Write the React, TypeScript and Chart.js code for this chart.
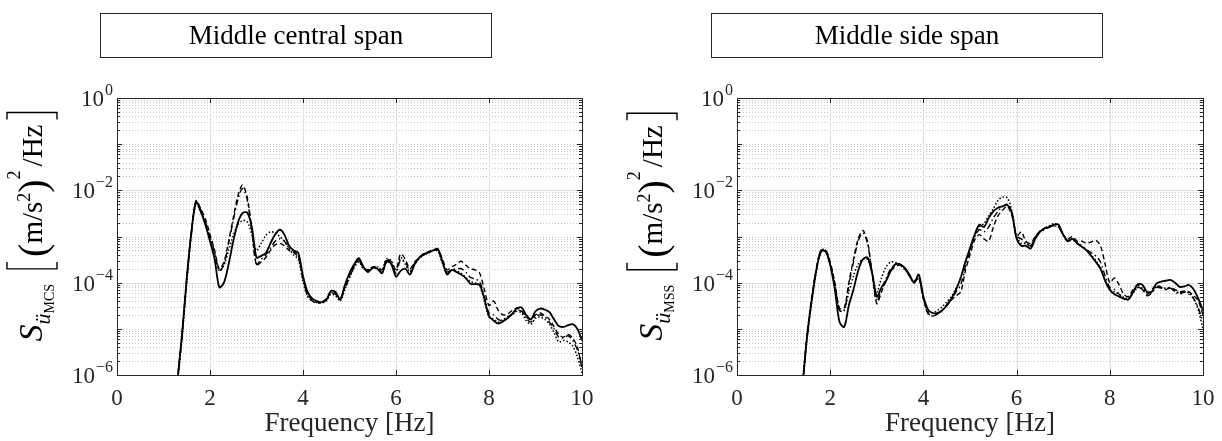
import React, { useEffect, useRef } from "react";
import { Chart, registerables } from "chart.js";

Chart.register(...registerables);

const FONT = "'Liberation Serif', 'Times New Roman', serif";

// ---------- data: Middle central span ----------
const centralFreq = [
  1.3, 1.4, 1.5, 1.6, 1.7, 1.8, 1.9, 2.0, 2.1, 2.2, 2.3, 2.4, 2.5, 2.6, 2.7, 2.8, 2.9, 3.0, 3.1, 3.2,
  3.3, 3.4, 3.5, 3.6, 3.7, 3.8, 3.9, 4.0, 4.1, 4.2, 4.3, 4.4, 4.5, 4.6, 4.7, 4.8, 4.9, 5.0, 5.1, 5.2,
  5.3, 5.4, 5.5, 5.6, 5.7, 5.8, 5.9, 6.0, 6.1, 6.2, 6.3, 6.4, 6.5, 6.6, 6.7, 6.8, 6.9, 7.0, 7.1, 7.2,
  7.3, 7.4, 7.5, 7.6, 7.7, 7.8, 7.9, 8.0, 8.1, 8.2, 8.3, 8.4, 8.5, 8.6, 8.7, 8.8, 8.9, 9.0, 9.1, 9.2,
  9.3, 9.4, 9.5, 9.6, 9.7, 9.8, 9.9, 10.0,
];
const centralSolid = [
  7.9e-7, 7.9e-6, 1.26e-4, 1.26e-3, 5.6e-3, 3.5e-3, 1.8e-3, 7.9e-4, 3.2e-4, 7.9e-5,
  1.0e-4, 2.5e-4, 7.9e-4, 2.0e-3, 3.2e-3, 3.3e-3, 1.6e-3, 3.5e-4, 3.8e-4, 4.4e-4,
  7.1e-4, 1.1e-3, 1.4e-3, 1.1e-3, 6.3e-4, 5.0e-4, 4.4e-4, 1.4e-4, 6.3e-5, 4.5e-5,
  4.0e-5, 3.8e-5, 4.2e-5, 6.6e-5, 6.3e-5, 4.3e-5, 8.9e-5, 1.6e-4, 2.5e-4, 3.4e-4,
  2.2e-4, 1.7e-4, 2.1e-4, 2.0e-4, 1.6e-4, 3.0e-4, 2.5e-4, 1.35e-4, 1.8e-4, 2.0e-4,
  1.5e-4, 2.5e-4, 3.5e-4, 4.2e-4, 4.5e-4, 5.0e-4, 5.4e-4, 2.8e-4, 1.5e-4, 1.9e-4,
  1.7e-4, 1.5e-4, 1.26e-4, 9.5e-5, 9.3e-5, 8.9e-5, 4.5e-5, 1.9e-5, 1.5e-5, 1.3e-5,
  1.45e-5, 1.7e-5, 2.1e-5, 2.8e-5, 2.9e-5, 2.0e-5, 1.6e-5, 2.4e-5, 2.75e-5, 2.6e-5,
  2.3e-5, 1.6e-5, 1.15e-5, 1.1e-5, 1.2e-5, 1.26e-5, 1.0e-5, 5.6e-6,
];
const centralDashed = [
  7.9e-7, 7.9e-6, 1.26e-4, 1.26e-3, 6.0e-3, 4.0e-3, 2.4e-3, 1.1e-3, 5.0e-4, 2.0e-4,
  2.8e-4, 7.9e-4, 2.5e-3, 7.6e-3, 1.3e-2, 7.1e-3, 1.4e-3, 2.4e-4, 2.8e-4, 3.5e-4,
  5.0e-4, 6.6e-4, 7.1e-4, 6.3e-4, 5.0e-4, 4.5e-4, 3.5e-4, 1.26e-4, 5.6e-5, 4.2e-5,
  3.8e-5, 3.8e-5, 4.5e-5, 6.3e-5, 6.0e-5, 4.5e-5, 7.9e-5, 1.4e-4, 2.3e-4, 3.2e-4,
  2.1e-4, 1.9e-4, 2.2e-4, 2.1e-4, 1.9e-4, 3.2e-4, 2.8e-4, 1.9e-4, 4.2e-4, 3.2e-4,
  2.0e-4, 2.8e-4, 3.5e-4, 4.2e-4, 4.7e-4, 5.2e-4, 5.2e-4, 3.2e-4, 1.9e-4, 2.2e-4,
  2.5e-4, 2.9e-4, 2.4e-4, 2.0e-4, 1.9e-4, 1.6e-4, 7.1e-5, 3.2e-5, 4.0e-5, 2.5e-5,
  2.0e-5, 2.1e-5, 2.5e-5, 2.8e-5, 2.5e-5, 1.8e-5, 1.6e-5, 2.0e-5, 2.2e-5, 1.9e-5,
  1.6e-5, 1.1e-5, 7.6e-6, 6.6e-6, 7.6e-6, 6.3e-6, 4.0e-6, 1.4e-6,
];
const centralDashDot = [
  7.1e-7, 7.1e-6, 1.1e-4, 1.2e-3, 5.8e-3, 3.8e-3, 2.1e-3, 1.0e-3, 4.5e-4, 1.8e-4,
  2.5e-4, 7.1e-4, 2.2e-3, 6.3e-3, 1.1e-2, 6.3e-3, 1.26e-3, 2.5e-4, 3.2e-4, 4.0e-4,
  5.6e-4, 7.9e-4, 8.9e-4, 7.9e-4, 5.6e-4, 4.8e-4, 3.8e-4, 1.2e-4, 5.2e-5, 4.0e-5,
  3.6e-5, 3.7e-5, 4.4e-5, 6.0e-5, 5.6e-5, 4.2e-5, 7.6e-5, 1.3e-4, 2.2e-4, 3.0e-4,
  2.0e-4, 1.8e-4, 2.1e-4, 2.0e-4, 1.7e-4, 2.8e-4, 2.6e-4, 1.6e-4, 3.2e-4, 2.8e-4,
  1.8e-4, 2.6e-4, 3.4e-4, 4.0e-4, 4.4e-4, 5.0e-4, 5.0e-4, 2.8e-4, 1.7e-4, 1.9e-4,
  2.0e-4, 2.0e-4, 1.7e-4, 1.3e-4, 1.2e-4, 1.05e-4, 5.0e-5, 2.2e-5, 2.0e-5, 1.6e-5,
  1.5e-5, 1.8e-5, 2.1e-5, 2.5e-5, 2.4e-5, 1.7e-5, 1.4e-5, 1.9e-5, 2.0e-5, 1.8e-5,
  1.4e-5, 1.0e-5, 6.6e-6, 6.3e-6, 7.1e-6, 5.6e-6, 3.5e-6, 1.6e-6,
];
const centralDotted = [
  6.3e-7, 6.3e-6, 1.0e-4, 1.1e-3, 5.2e-3, 3.5e-3, 1.9e-3, 9.5e-4, 4.2e-4, 1.8e-4,
  2.4e-4, 5.0e-4, 1.05e-3, 1.8e-3, 2.2e-3, 2.1e-3, 1.1e-3, 5.0e-4, 7.1e-4, 1.05e-3,
  1.26e-3, 1.2e-3, 1.0e-3, 7.9e-4, 5.6e-4, 4.0e-4, 3.2e-4, 1.05e-4, 5.0e-5, 4.0e-5,
  3.7e-5, 3.6e-5, 4.0e-5, 5.6e-5, 5.2e-5, 4.0e-5, 7.1e-5, 1.26e-4, 2.1e-4, 2.8e-4,
  2.0e-4, 1.9e-4, 2.2e-4, 2.2e-4, 1.9e-4, 3.3e-4, 3.0e-4, 1.8e-4, 3.5e-4, 2.5e-4,
  1.7e-4, 2.5e-4, 3.3e-4, 4.0e-4, 4.5e-4, 5.0e-4, 4.8e-4, 2.6e-4, 1.6e-4, 1.9e-4,
  1.8e-4, 1.6e-4, 1.3e-4, 1.05e-4, 1.0e-4, 8.9e-5, 4.0e-5, 1.8e-5, 1.6e-5, 1.4e-5,
  1.6e-5, 1.8e-5, 2.0e-5, 2.4e-5, 2.2e-5, 1.5e-5, 1.26e-5, 1.7e-5, 1.8e-5, 1.6e-5,
  1.26e-5, 8.3e-6, 5.2e-6, 5.6e-6, 5.2e-6, 4.2e-6, 2.5e-6, 1.1e-6,
];

// ---------- data: Middle side span ----------
const sideFreq = [
  1.4, 1.5, 1.6, 1.7, 1.8, 1.9, 2.0, 2.1, 2.2, 2.3, 2.4, 2.5, 2.6, 2.7, 2.8, 2.9, 3.0, 3.1, 3.2, 3.3,
  3.4, 3.5, 3.6, 3.7, 3.8, 3.9, 4.0, 4.1, 4.2, 4.3, 4.4, 4.5, 4.6, 4.7, 4.8, 4.9, 5.0, 5.1, 5.2, 5.3,
  5.4, 5.5, 5.6, 5.7, 5.8, 5.9, 6.0, 6.1, 6.2, 6.3, 6.4, 6.5, 6.6, 6.7, 6.8, 6.9, 7.0, 7.1, 7.2, 7.3,
  7.4, 7.5, 7.6, 7.7, 7.8, 7.9, 8.0, 8.1, 8.2, 8.3, 8.4, 8.5, 8.6, 8.7, 8.8, 8.9, 9.0, 9.1, 9.2, 9.3,
  9.4, 9.5, 9.6, 9.7, 9.8, 9.9, 10.0,
];
const sideSolid = [
  5.0e-7, 6.3e-6, 4.0e-5, 1.8e-4, 4.7e-4, 4.8e-4, 2.4e-4, 7.1e-5, 1.4e-5, 1.1e-5,
  3.2e-5, 7.1e-5, 1.8e-4, 3.2e-4, 3.5e-4, 1.6e-4, 5.0e-5, 7.9e-5, 1.1e-4, 1.8e-4,
  2.5e-4, 2.5e-4, 2.1e-4, 1.5e-4, 1.0e-4, 1.5e-4, 5.0e-5, 2.6e-5, 2.2e-5, 2.2e-5,
  2.5e-5, 3.2e-5, 4.5e-5, 7.1e-5, 1.26e-4, 2.8e-4, 5.6e-4, 1.1e-3, 1.8e-3, 1.6e-3,
  2.5e-3, 3.5e-3, 4.2e-3, 4.5e-3, 4.8e-3, 3.2e-3, 8.9e-4, 6.3e-4, 6.3e-4, 5.5e-4,
  8.9e-4, 1.26e-3, 1.5e-3, 1.6e-3, 1.8e-3, 1.8e-3, 1.1e-3, 7.9e-4, 8.9e-4, 7.1e-4,
  6.0e-4, 5.0e-4, 3.8e-4, 2.8e-4, 2.0e-4, 1.1e-4, 6.9e-5, 5.6e-5, 5.0e-5, 4.5e-5,
  4.3e-5, 6.3e-5, 9.3e-5, 8.9e-5, 6.3e-5, 6.3e-5, 9.5e-5, 1.05e-4, 1.1e-4, 1.15e-4,
  1.0e-4, 8.1e-5, 8.3e-5, 8.9e-5, 7.1e-5, 4.5e-5, 2.5e-5,
];
const sideDashed = [
  5.6e-7, 7.1e-6, 4.5e-5, 2.0e-4, 5.0e-4, 5.2e-4, 2.8e-4, 1.0e-4, 2.8e-5, 2.8e-5,
  1.0e-4, 3.2e-4, 8.9e-4, 1.35e-3, 7.9e-4, 1.6e-4, 3.5e-5, 6.3e-5, 1.1e-4, 1.8e-4,
  2.2e-4, 2.4e-4, 2.0e-4, 1.4e-4, 1.1e-4, 1.26e-4, 4.5e-5, 2.2e-5, 1.9e-5, 2.1e-5,
  2.5e-5, 3.2e-5, 4.2e-5, 5.2e-5, 6.3e-5, 1.8e-4, 4.0e-4, 8.3e-4, 1.1e-3, 8.9e-4,
  7.9e-4, 1.6e-3, 2.8e-3, 3.7e-3, 4.5e-3, 2.8e-3, 1.0e-3, 1.26e-3, 7.9e-4, 7.1e-4,
  1.0e-3, 1.3e-3, 1.5e-3, 1.7e-3, 1.7e-3, 1.6e-3, 1.1e-3, 8.9e-4, 1.0e-3, 7.9e-4,
  7.9e-4, 7.1e-4, 7.6e-4, 8.3e-4, 6.3e-4, 2.5e-4, 1.0e-4, 1.26e-4, 8.9e-5, 5.6e-5,
  5.0e-5, 7.1e-5, 8.9e-5, 7.1e-5, 5.6e-5, 7.1e-5, 8.9e-5, 7.9e-5, 7.1e-5, 7.9e-5,
  7.1e-5, 6.3e-5, 6.6e-5, 6.3e-5, 5.2e-5, 4.0e-5, 2.0e-5,
];
const sideDashDot = [
  5.0e-7, 6.3e-6, 4.0e-5, 1.9e-4, 5.0e-4, 5.0e-4, 2.6e-4, 8.9e-5, 2.5e-5, 2.5e-5,
  8.9e-5, 2.8e-4, 7.9e-4, 1.2e-3, 7.1e-4, 1.6e-4, 4.0e-5, 7.1e-5, 1.26e-4, 2.0e-4,
  2.5e-4, 2.5e-4, 2.1e-4, 1.4e-4, 1.0e-4, 1.3e-4, 4.5e-5, 2.1e-5, 1.9e-5, 2.1e-5,
  2.5e-5, 3.3e-5, 4.5e-5, 6.3e-5, 8.9e-5, 2.2e-4, 4.8e-4, 1.0e-3, 1.4e-3, 1.26e-3,
  1.6e-3, 2.5e-3, 3.5e-3, 4.5e-3, 5.0e-3, 3.2e-3, 1.0e-3, 8.9e-4, 7.1e-4, 6.3e-4,
  9.5e-4, 1.26e-3, 1.4e-3, 1.6e-3, 1.7e-3, 1.6e-3, 1.05e-3, 7.9e-4, 8.9e-4, 7.1e-4,
  6.3e-4, 5.2e-4, 4.5e-4, 3.8e-4, 2.8e-4, 1.4e-4, 7.9e-5, 7.1e-5, 5.6e-5, 4.5e-5,
  4.5e-5, 6.0e-5, 7.9e-5, 7.1e-5, 5.2e-5, 6.0e-5, 7.9e-5, 7.6e-5, 7.1e-5, 7.6e-5,
  6.3e-5, 5.6e-5, 6.3e-5, 5.6e-5, 4.5e-5, 2.8e-5, 1.4e-5,
];
const sideDotted = [
  4.5e-7, 5.6e-6, 3.5e-5, 1.7e-4, 4.5e-4, 4.7e-4, 2.5e-4, 8.9e-5, 2.5e-5, 2.5e-5,
  6.3e-5, 1.4e-4, 2.5e-4, 3.2e-4, 3.2e-4, 1.6e-4, 6.3e-5, 1.26e-4, 2.2e-4, 2.8e-4,
  2.75e-4, 2.4e-4, 1.9e-4, 1.4e-4, 1.0e-4, 1.26e-4, 4.5e-5, 2.4e-5, 2.2e-5, 2.5e-5,
  3.0e-5, 3.8e-5, 5.0e-5, 7.6e-5, 1.3e-4, 2.8e-4, 5.2e-4, 1.0e-3, 1.6e-3, 1.9e-3,
  2.8e-3, 4.0e-3, 6.0e-3, 7.2e-3, 6.9e-3, 3.5e-3, 1.0e-3, 7.1e-4, 7.1e-4, 6.3e-4,
  9.5e-4, 1.3e-3, 1.5e-3, 1.7e-3, 1.9e-3, 1.7e-3, 1.1e-3, 8.3e-4, 8.9e-4, 7.1e-4,
  6.0e-4, 5.0e-4, 4.0e-4, 3.0e-4, 2.1e-4, 1.1e-4, 7.1e-5, 6.3e-5, 5.6e-5, 4.8e-5,
  4.5e-5, 6.0e-5, 7.9e-5, 7.6e-5, 6.0e-5, 6.3e-5, 8.3e-5, 7.9e-5, 7.6e-5, 7.6e-5,
  6.6e-5, 6.0e-5, 6.3e-5, 6.0e-5, 4.5e-5, 2.5e-5, 1.0e-5,
];

// ---------- ticks ----------
const xTickValues = [0, 2, 4, 6, 8, 10];
const yTickValues = [1, 1e-2, 1e-4, 1e-6];
const yTickExponents = ["0", "\u22122", "\u22124", "\u22126"];
const xGridValues = [2, 4, 6, 8];
const yMajorGridValues = [1e-2, 1e-4];

const panelTitles = ["Middle central span", "Middle side span"];
const panelSubscripts = ["MCS", "MSS"];
const xAxisTitle = "Frequency [Hz]";

type Series = { values: number[]; width: number; dash: number[] };

function makeDecor(title: string, sub: string) {
  return {
    id: "decor",
    beforeDatasetsDraw(chart: any) {
      const { ctx, chartArea: a, scales } = chart;
      const ys = scales.y;
      const xs = scales.x;
      ctx.save();
      ctx.lineWidth = 1;
      ctx.strokeStyle = "#c8c8c8";
      ctx.setLineDash([1, 2]);
      for (let e = -6; e < 0; e++) {
        for (let m = 1; m < 10; m++) {
          if (m === 1 && e % 2 === 0) continue;
          const v = m * Math.pow(10, e);
          const y = Math.round(ys.getPixelForValue(v)) + 0.5;
          ctx.beginPath();
          ctx.moveTo(a.left, y);
          ctx.lineTo(a.right, y);
          ctx.stroke();
        }
      }
      ctx.setLineDash([]);
      ctx.strokeStyle = "#dedede";
      for (const v of yMajorGridValues) {
        const y = Math.round(ys.getPixelForValue(v)) + 0.5;
        ctx.beginPath();
        ctx.moveTo(a.left, y);
        ctx.lineTo(a.right, y);
        ctx.stroke();
      }
      for (const v of xGridValues) {
        const x = Math.round(xs.getPixelForValue(v)) + 0.5;
        ctx.beginPath();
        ctx.moveTo(x, a.top);
        ctx.lineTo(x, a.bottom);
        ctx.stroke();
      }
      ctx.restore();
    },
    afterDraw(chart: any) {
      const { ctx, chartArea: a, scales } = chart;
      const ys = scales.y;
      const xs = scales.x;
      ctx.save();
      const dark = "#262626";
      ctx.strokeStyle = dark;
      ctx.lineWidth = 1;
      ctx.strokeRect(Math.round(a.left) + 0.5, Math.round(a.top) + 0.5, Math.round(a.right - a.left), Math.round(a.bottom - a.top));
      for (const v of xTickValues) {
        const x = Math.round(xs.getPixelForValue(v)) + 0.5;
        ctx.beginPath();
        ctx.moveTo(x, a.bottom);
        ctx.lineTo(x, a.bottom - 5);
        ctx.moveTo(x, a.top);
        ctx.lineTo(x, a.top + 5);
        ctx.stroke();
      }
      for (let e = -6; e <= 0; e++) {
        for (let m = 1; m < 10; m++) {
          if (e === 0 && m > 1) break;
          const v = m * Math.pow(10, e);
          const len = m === 1 ? 5 : 3;
          const y = Math.round(ys.getPixelForValue(v)) + 0.5;
          ctx.beginPath();
          ctx.moveTo(a.left, y);
          ctx.lineTo(a.left + len, y);
          ctx.moveTo(a.right, y);
          ctx.lineTo(a.right - len, y);
          ctx.stroke();
        }
      }
      // y tick labels 10^k
      ctx.fillStyle = dark;
      ctx.textBaseline = "alphabetic";
      ctx.textAlign = "left";
      yTickValues.forEach((v, i) => {
        const y = ys.getPixelForValue(v);
        const exp = yTickExponents[i];
        ctx.font = `16px ${FONT}`;
        const ew = ctx.measureText(exp).width;
        ctx.font = `23px ${FONT}`;
        const bw = ctx.measureText("10").width;
        const right = a.left - 4;
        ctx.fillText("10", right - ew - bw - 1, y + 8);
        ctx.font = `16px ${FONT}`;
        ctx.fillText(exp, right - ew, y - 3);
      });
      // x axis title
      ctx.font = `27px ${FONT}`;
      ctx.textAlign = "center";
      ctx.fillText(xAxisTitle, (a.left + a.right) / 2, 431);
      // y axis label
      drawYLabel(ctx, a.left - 75, (a.top + a.bottom) / 2 - 10, sub);
      // title box
      ctx.lineWidth = 1;
      ctx.strokeStyle = dark;
      ctx.strokeRect(100.5, 13.5, 391, 44);
      ctx.fillStyle = "#000";
      ctx.font = `27px ${FONT}`;
      ctx.textAlign = "center";
      ctx.fillText(title, 296, 44);
      ctx.restore();
    },
  };
}

function drawYLabel(ctx: CanvasRenderingContext2D, cx: number, cy: number, sub: string) {
  type Item = { t?: string; f?: string; dy?: number; gap?: number; br?: string };
  const items: Item[] = [
    { t: "S", f: `italic 34px ${FONT}`, dy: 0 },
    { t: "\u00fc", f: `italic 22px ${FONT}`, dy: 8 },
    { t: sub, f: `14px ${FONT}`, dy: 12 },
    { gap: 14 },
    { br: "[" },
    { gap: 5 },
    { t: "(", f: `40px ${FONT}`, dy: 4 },
    { t: "m/s", f: `29px ${FONT}`, dy: 0 },
    { t: "2", f: `18px ${FONT}`, dy: -12 },
    { t: ")", f: `40px ${FONT}`, dy: 4 },
    { t: "2", f: `18px ${FONT}`, dy: -22 },
    { gap: 4 },
    { t: "/Hz", f: `29px ${FONT}`, dy: 0 },
    { gap: 5 },
    { br: "]" },
  ];
  const BRW = 8;
  ctx.save();
  ctx.translate(cx, cy);
  ctx.rotate(-Math.PI / 2);
  let total = 0;
  const widths = items.map((it) => {
    let w = 0;
    if (it.gap) w = it.gap;
    else if (it.br) w = BRW;
    else {
      ctx.font = it.f!;
      w = ctx.measureText(it.t!).width;
    }
    total += w;
    return w;
  });
  let u = -total / 2;
  ctx.fillStyle = "#000";
  ctx.strokeStyle = "#000";
  ctx.lineWidth = 1.4;
  ctx.textAlign = "left";
  ctx.textBaseline = "alphabetic";
  items.forEach((it, i) => {
    if (it.t) {
      ctx.font = it.f!;
      ctx.fillText(it.t, u, it.dy || 0);
    } else if (it.br) {
      const top = -35;
      const bot = 15;
      ctx.beginPath();
      if (it.br === "[") {
        ctx.moveTo(u + BRW, top);
        ctx.lineTo(u + 1, top);
        ctx.lineTo(u + 1, bot);
        ctx.lineTo(u + BRW, bot);
      } else {
        ctx.moveTo(u, top);
        ctx.lineTo(u + BRW - 1, top);
        ctx.lineTo(u + BRW - 1, bot);
        ctx.lineTo(u, bot);
      }
      ctx.stroke();
    }
    u += widths[i];
  });
  ctx.restore();
}

function Panel({ freq, series, title, sub, axisWidth, padRight, left }: {
  freq: number[]; series: Series[]; title: string; sub: string; axisWidth: number; padRight: number; left: number;
}) {
  const ref = useRef<HTMLCanvasElement | null>(null);
  useEffect(() => {
    if (!ref.current) return;
    const chart = new Chart(ref.current, {
      type: "line",
      data: {
        datasets: series.map((s) => ({
          data: freq.map((f, i) => ({ x: f, y: s.values[i] })),
          borderColor: "#000",
          borderWidth: s.width,
          borderDash: s.dash,
          pointRadius: 0,
          tension: 0.3,
          fill: false,
          clip: 0,
        })),
      },
      options: {
        responsive: false,
        animation: false,
        devicePixelRatio: 1,
        events: [],
        layout: { padding: { top: 98, right: padRight, left: 0, bottom: 0 } },
        plugins: { legend: { display: false }, tooltip: { enabled: false }, title: { display: false } },
        scales: {
          x: {
            type: "linear",
            min: 0,
            max: 10,
            ticks: { stepSize: 2, font: { family: FONT, size: 23 }, color: "#262626", padding: 2, maxRotation: 0, autoSkip: false },
            grid: { display: false },
            border: { display: false },
            afterFit: (s: any) => { s.height = 66; },
          },
          y: {
            type: "logarithmic",
            min: 1e-6,
            max: 1,
            ticks: { display: false },
            grid: { display: false },
            border: { display: false },
            afterFit: (s: any) => { s.width = axisWidth; },
          },
        },
      } as any,
      plugins: [makeDecor(title, sub)],
    });
    return () => chart.destroy();
  }, []);
  return (
    <canvas ref={ref} width={611} height={441} style={{ position: "absolute", left, top: 0, width: 611, height: 441 }} />
  );
}

export default function App() {
  const centralSeries: Series[] = [
    { values: centralDotted, width: 1.5, dash: [1.5, 2] },
    { values: centralDashDot, width: 1.4, dash: [6, 3, 1.5, 3] },
    { values: centralDashed, width: 1.4, dash: [5, 3] },
    { values: centralSolid, width: 1.8, dash: [] },
  ];
  const sideSeries: Series[] = [
    { values: sideDotted, width: 1.5, dash: [1.5, 2] },
    { values: sideDashDot, width: 1.4, dash: [6, 3, 1.5, 3] },
    { values: sideDashed, width: 1.4, dash: [5, 3] },
    { values: sideSolid, width: 1.8, dash: [] },
  ];
  return (
    <div style={{ position: "fixed", left: 0, top: 0, width: 1222, height: 441, background: "#fff", overflow: "hidden" }}>
      <Panel freq={centralFreq} series={centralSeries} title={panelTitles[0]} sub={panelSubscripts[0]} axisWidth={117} padRight={29} left={0} />
      <Panel freq={sideFreq} series={sideSeries} title={panelTitles[1]} sub={panelSubscripts[1]} axisWidth={126} padRight={19} left={611} />
    </div>
  );
}
